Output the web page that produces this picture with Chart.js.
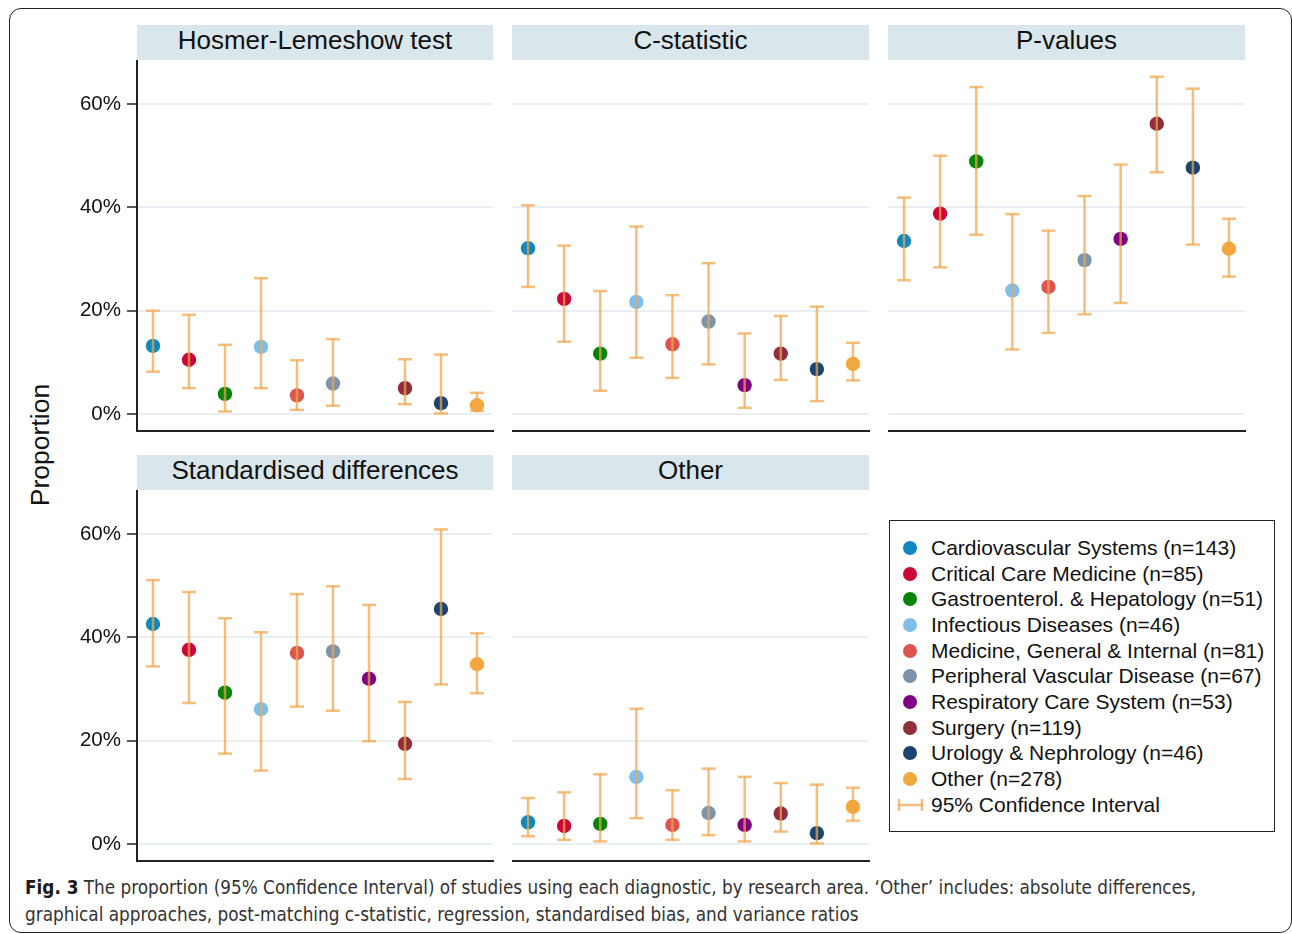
<!DOCTYPE html>
<html>
<head>
<meta charset="utf-8">
<script src="https://cdn.jsdelivr.net/npm/chart.js@4.4.1/dist/chart.umd.min.js"></script>
<style>
  html, body { margin:0; padding:0; background:#fff; }
  body { width:1292px; height:934px; position:relative; overflow:hidden; font-family:"Liberation Sans", Arial, Helvetica, sans-serif; color:#111; }
  #frame { position:absolute; left:9px; top:8px; width:1283px; height:925px; border:1.6px solid #222; border-radius:12px; box-sizing:border-box; }
  .strip { position:absolute; height:35px; line-height:31px; background:#d9e6ec; text-align:center; font-size:26px; color:#111; white-space:nowrap; }
  .pc { position:absolute; }
  #ytitle { position:absolute; left:40px; top:445px; transform:translate(-50%,-50%) rotate(-90deg); font-size:26.5px; white-space:nowrap; }
  #legend { position:absolute; left:889px; top:520px; width:386px; height:312px; border:1.6px solid #222; box-sizing:border-box; }
  .lrow { position:absolute; left:0; height:26px; line-height:26px; font-size:21px; white-space:nowrap; }
  .ldot { position:absolute; left:13px; top:6px; width:14px; height:14px; border-radius:50%; }
  .ltxt { position:absolute; left:41px; top:0; }
  #caption { position:absolute; left:25px; top:874px; width:1260px; font-family:"Liberation Sans Narrow","DejaVu Sans Condensed","Roboto",sans-serif; font-size:18.75px; line-height:27px; color:#333; white-space:nowrap; }
  #caption b { color:#1a1a1a; }
</style>
</head>
<body>
<div id="frame"></div>
<div id="ytitle">Proportion</div>
<div id="legend"></div>
<div id="caption"><b>Fig. 3</b> The proportion (95% Confidence Interval) of studies using each diagnostic, by research area. ‘Other’ includes: absolute differences,<br>graphical approaches, post-matching c-statistic, regression, standardised bias, and variance ratios</div>

<script>
// ---------- DATA ----------
const categories = [
  "Cardiovascular Systems (n=143)",
  "Critical Care Medicine (n=85)",
  "Gastroenterol. & Hepatology (n=51)",
  "Infectious Diseases (n=46)",
  "Medicine, General & Internal (n=81)",
  "Peripheral Vascular Disease (n=67)",
  "Respiratory Care System (n=53)",
  "Surgery (n=119)",
  "Urology & Nephrology (n=46)",
  "Other (n=278)"
];
const ciLabel = "95% Confidence Interval";
const panelTitles = ["Hosmer-Lemeshow test", "C-statistic", "P-values", "Standardised differences", "Other"];

// Hosmer-Lemeshow test (%)
const hlEst = [13.2, 10.5, 3.9, 13.0, 3.6, 5.9, null, 5.0, 2.1, 1.7];
const hlLow = [8.2, 5.0, 0.5, 5.0, 0.8, 1.6, null, 1.9, 0.1, 0.6];
const hlUpp = [20.0, 19.2, 13.4, 26.3, 10.4, 14.5, null, 10.6, 11.5, 4.1];

// C-statistic (%)
const csEst = [32.1, 22.3, 11.7, 21.7, 13.5, 17.9, 5.6, 11.7, 8.7, 9.7];
const csLow = [24.6, 14.0, 4.5, 10.9, 7.0, 9.6, 1.2, 6.6, 2.5, 6.5];
const csUpp = [40.4, 32.6, 23.8, 36.3, 23.0, 29.2, 15.6, 19.0, 20.8, 13.8];

// P-values (%)
const pvEst = [33.5, 38.8, 48.9, 23.9, 24.6, 29.8, 33.9, 56.2, 47.7, 32.0];
const pvLow = [25.9, 28.4, 34.7, 12.5, 15.7, 19.3, 21.5, 46.8, 32.8, 26.6];
const pvUpp = [41.9, 50.0, 63.3, 38.7, 35.5, 42.2, 48.3, 65.3, 63.0, 37.8];

// Standardised differences (%)
const sdEst = [42.6, 37.6, 29.3, 26.1, 37.0, 37.3, 32.0, 19.4, 45.5, 34.8];
const sdLow = [34.4, 27.3, 17.5, 14.2, 26.6, 25.8, 19.9, 12.6, 30.9, 29.2];
const sdUpp = [51.1, 48.8, 43.7, 41.0, 48.4, 49.9, 46.3, 27.5, 60.9, 40.8];

// Other (%)
const otEst = [4.2, 3.5, 3.9, 13.0, 3.7, 6.0, 3.7, 5.9, 2.1, 7.2];
const otLow = [1.5, 0.8, 0.5, 5.0, 0.8, 1.7, 0.5, 2.4, 0.1, 4.5];
const otUpp = [8.9, 10.0, 13.5, 26.2, 10.4, 14.6, 13.0, 11.8, 11.5, 10.9];

const yTicks = [0, 20, 40, 60];
const yTickLabels = ["0%", "20%", "40%", "60%"];

// ---------- STYLE ----------
const catColors = ["#0f88bd", "#c90836", "#058405", "#80bde8", "#dc564f", "#7d93aa", "#800082", "#8e2f3a", "#1b4570", "#f1a83c"];
const ciColor = "rgba(242,165,75,0.72)";
const Y_MIN = -3.29, Y_MAX = 68.35;

const panelBoxes = [
  { left:137, top:61,  right:493,  bottom:431, axis:true  },
  { left:512, top:61,  right:869,  bottom:431, axis:false },
  { left:888, top:61,  right:1245, bottom:431, axis:false },
  { left:137, top:491, right:493,  bottom:861, axis:true  },
  { left:512, top:491, right:869,  bottom:861, axis:false }
];
const panelData = [
  [hlEst, hlLow, hlUpp],
  [csEst, csLow, csUpp],
  [pvEst, pvLow, pvUpp],
  [sdEst, sdLow, sdUpp],
  [otEst, otLow, otUpp]
];

// ---------- LEGEND ----------
const legend = document.getElementById('legend');
const rowTop0 = 14, rowStep = 25.65;
categories.forEach((c, i) => {
  const r = document.createElement('div');
  r.className = 'lrow';
  r.style.top = (rowTop0 + i * rowStep) + 'px';
  r.innerHTML = '<span class="ldot" style="background:' + catColors[i] + '"></span><span class="ltxt"></span>';
  r.querySelector('.ltxt').textContent = c;
  legend.appendChild(r);
});
{
  const r = document.createElement('div');
  r.className = 'lrow';
  r.style.top = (rowTop0 + categories.length * rowStep) + 'px';
  r.innerHTML = '<svg style="position:absolute;left:7px;top:6px" width="28" height="14"><line x1="2" y1="7" x2="25" y2="7" stroke="' + ciColor + '" stroke-width="2.5"/><line x1="2" y1="1" x2="2" y2="13" stroke="' + ciColor + '" stroke-width="2.5"/><line x1="25" y1="1" x2="25" y2="13" stroke="' + ciColor + '" stroke-width="2.5"/></svg><span class="ltxt"></span>';
  r.querySelector('.ltxt').textContent = ciLabel;
  legend.appendChild(r);
}

// ---------- PANELS ----------
Chart.defaults.font.family = '"Liberation Sans", Arial, Helvetica, sans-serif';
Chart.defaults.color = '#111';

panelBoxes.forEach((b, p) => {
  const s = document.createElement('div');
  s.className = 'strip';
  s.style.left = b.left + 'px';
  s.style.top = (b.top - 36) + 'px';
  s.style.width = (b.right - b.left) + 'px';
  s.textContent = panelTitles[p];
  document.body.appendChild(s);

  const yW = b.axis ? 97 : 0;
  const padTop = 10, padBottom = 8, xH = 2, padRight = 4;
  const cLeft = b.left - yW;
  const cTop = b.top - padTop;
  const w = (b.right - b.left) + yW + padRight;
  const h = (b.bottom - b.top) + padTop + padBottom + xH;

  const wrap = document.createElement('div');
  wrap.className = 'pc';
  wrap.style.left = cLeft + 'px';
  wrap.style.top = cTop + 'px';
  wrap.style.width = w + 'px';
  wrap.style.height = h + 'px';
  const cv = document.createElement('canvas');
  wrap.appendChild(cv);
  document.body.appendChild(wrap);

  const [est, low, upp] = panelData[p];
  const pts = est.map((v, i) => ({ x: i + 1, y: v }));
  const ci = [];
  low.forEach((lo, i) => {
    if (lo === null || upp[i] === null) return;
    ci.push({ x: i + 1, y: lo });
    ci.push({ x: i + 1, y: upp[i] });
    ci.push({ x: i + 1, y: null });
  });

  const zeroPad = (sc) => { sc.paddingTop = 0; sc.paddingBottom = 0; sc.paddingLeft = 0; sc.paddingRight = 0; };

  new Chart(cv, {
    type: 'scatter',
    data: {
      datasets: [
        {
          type: 'line',
          label: ciLabel,
          data: ci,
          order: 0,
          borderColor: ciColor,
          borderWidth: 2.5,
          spanGaps: false,
          showLine: true,
          pointStyle: 'line',
          pointRadius: 7,
          pointBorderWidth: 2.5,
          pointBorderColor: ciColor,
          pointHoverRadius: 7,
          fill: false,
          clip: false
        },
        {
          type: 'scatter',
          label: 'estimates',
          data: pts,
          order: 1,
          pointRadius: 7.2,
          pointHoverRadius: 7.2,
          pointBorderWidth: 0,
          pointBackgroundColor: catColors,
          backgroundColor: catColors,
          clip: false
        }
      ]
    },
    options: {
      responsive: true,
      maintainAspectRatio: false,
      animation: false,
      events: [],
      layout: { autoPadding: false, padding: { top: padTop, bottom: padBottom, left: 0, right: padRight } },
      plugins: { legend: { display: false }, tooltip: { enabled: false }, title: { display: false } },
      scales: {
        x: {
          type: 'linear',
          min: 0.556, max: 10.444,
          grid: { display: false, drawTicks: false },
          ticks: { display: false },
          border: { display: true, color: '#222', width: 2 },
          afterFit: (sc) => { sc.height = xH; zeroPad(sc); }
        },
        y: {
          type: 'linear',
          min: Y_MIN, max: Y_MAX,
          afterBuildTicks: (sc) => { sc.ticks = yTicks.map(v => ({ value: v })); },
          afterFit: (sc) => { sc.width = yW; zeroPad(sc); },
          grid: {
            display: true,
            color: '#e8f0f3',
            lineWidth: 2,
            drawTicks: b.axis,
            tickLength: 10,
            tickColor: '#222',
            tickWidth: 1.5
          },
          border: { display: b.axis, color: '#222', width: 2 },
          ticks: {
            display: b.axis,
            padding: 6,
            font: { size: 20.5 },
            color: '#111',
            callback: (v) => { const k = yTicks.indexOf(v); return k >= 0 ? yTickLabels[k] : ''; }
          }
        }
      }
    }
  });
});
</script>
</body>
</html>
